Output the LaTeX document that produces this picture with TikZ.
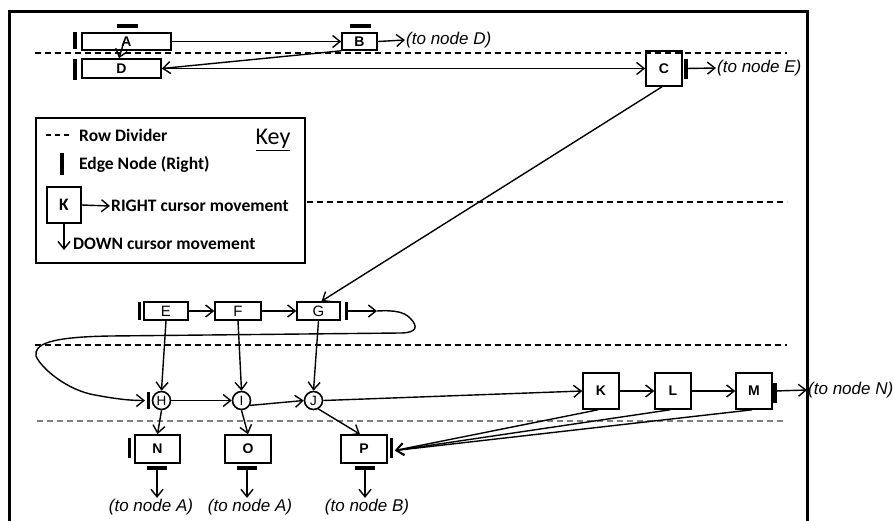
\documentclass[tikz,border=0pt]{standalone}
\usepackage{fontspec}
\setmainfont{Liberation Sans}
\newfontfamily\keyfont{Carlito}
\usetikzlibrary{arrows.meta}
\begin{document}
\begin{tikzpicture}[x=1pt,y=-1pt,
  sz/.style 2 args={minimum width=#1pt, minimum height=#2pt},
  arr/.style={-{Straight Barb[length=7.5pt,width=12pt,line width=1.4pt]}, line width=1.4pt},
  box/.style={draw, line width=1.6pt, inner sep=0pt, font=\fontsize{14}{14}\selectfont\bfseries},
  rbox/.style={draw, line width=1.6pt, inner sep=0pt, font=\fontsize{15}{15}\selectfont},
  circ/.style={draw, circle, line width=1.6pt, inner sep=0pt, minimum size=18pt, font=\fontsize{13.5}{13.5}\selectfont},
  ebar/.style={line width=3.4pt},
  divider/.style={line width=1.4pt, dash pattern=on 6pt off 4pt},
  lbl/.style={inner sep=1pt, font=\fontsize{17}{18}\selectfont\itshape},
  keytxt/.style={inner sep=1pt, anchor=west, font=\keyfont\fontsize{17.5}{19}\selectfont\bfseries}
]
\useasboundingbox (0,0) rectangle (894,520);
\fill[white] (0,0) rectangle (894,520);

% frame
\draw[line width=3pt] (9,524) -- (9,11) -- (807,11) -- (807,524);

% dividers
\draw[divider] (35,53) -- (787,53);
\draw[divider] (307,202) -- (787,202);
\draw[divider] (35,345) -- (787,345);
\draw[divider, gray] (37,421) -- (785,421);

% ---- top rows
\node[box, sz={89}{17}] (A) at (126.5,41.5) {A};
\node[box, sz={35}{17}] (B) at (359.5,41.5) {B};
\node[box, sz={79}{19}] (D) at (121.5,68.5) {D};
\node[box, sz={36}{35}] (C) at (664,68.5) {C};
\node[lbl, anchor=west] (tD) at (405,40) {(to node D)};
\node[lbl, anchor=west] (tE) at (716,68) {(to node E)};

\draw[ebar] (75,32) -- (75,49);
\draw[ebar] (117,26) -- (138,26);
\draw[ebar] (350,26) -- (371,26);
\draw[ebar] (75,59) -- (75,80);
\draw[ebar] (686,59) -- (686,79);
\coordinate (Cb) at (686,68.5);

\draw[arr] (A.east) -- (B.west);
\draw[arr] ([xshift=-2.5pt]A.center) -- ([xshift=-2.5pt]D.north);
\draw[arr] (B.south west) -- (D.east);
\draw[arr] (D.east) -- (C.west);
\draw[arr] (B.east) -- (tD.west);
\draw[arr] (Cb) -- (tE.west);

% ---- key
\node[draw, line width=1.8pt, sz={269}{145}] (key) at (170.5,190.5) {};
\draw[line width=1.2pt, dash pattern=on 5pt off 4pt] (46,135) -- (72,135);
\node[keytxt] (k1) at (78,135) {Row Divider};
\draw[ebar] (62,153) -- (62,175);
\node[keytxt] (k2) at (78,164) {Edge Node (Right)};
\node[box, font=\keyfont\fontsize{17.5}{17.5}\selectfont\bfseries, sz={34}{36}] (kK) at (64,205) {K};
\node[keytxt] (k3) at (110,206) {RIGHT cursor movement};
\node[keytxt] (k4) at (72,244) {DOWN cursor movement};
\coordinate (kd) at (64,250);
\draw[arr] (kK.east) -- (k3.west);
\draw[arr] (kK.south) -- (kd);
\node[inner sep=0pt, font=\keyfont\fontsize{24}{24}\selectfont] (keyttl) at (273,140) {\underline{Key}};

% ---- E F G row
\node[rbox, sz={44}{18}] (E) at (166,311) {E};
\node[rbox, sz={46}{18}] (F) at (238,311) {F};
\node[rbox, sz={43}{18}] (G) at (318.5,311) {G};
\draw[ebar] (139.5,302) -- (139.5,320);
\draw[ebar] (346.5,302) -- (346.5,320);
\coordinate (Gb) at (346.5,311);
\coordinate (gout) at (377,311);
\draw[arr] (E.east) -- (F.west);
\draw[arr] (F.east) -- (G.west);
\draw[arr] (Gb) -- (gout);
\draw[arr] ([xshift=-2pt]C.south) -- ([xshift=3pt]G.north);

% ---- H I J row
\node[circ] (H) at (161.5,400.5) {H};
\node[circ] (I) at (241.5,400.5) {I};
\node[circ] (J) at (313.5,400.5) {J};
\draw[ebar] (148.5,392) -- (148.5,409);
\coordinate (hin) at (145,400.5);
\draw[arr] (gout) .. controls (395,310) and (404,312) .. (410,318)
  .. controls (418,326) and (418,333) .. (400,333) -- (110,336)
  .. controls (50,337) and (34,344) .. (36,356)
  .. controls (40,366) and (62,387) .. (90,394)
  .. controls (115,399) and (130,400.5) .. (hin);

\draw[arr] (E.south) -- (H.north);
\draw[arr] (F.south) -- (I.north);
\draw[arr] (G.south) -- (J.north);
\draw[arr] (H.east) -- (I.west);
\draw[arr] (I.-30) -- (J.west);

% ---- K L M
\node[box, sz={36}{36}] (K) at (601,391) {K};
\node[box, sz={36}{36}] (L) at (673,391) {L};
\node[box, sz={36}{36}] (M) at (754,391) {M};
\draw[ebar] (775,383) -- (775,403);
\coordinate (Mb) at (775,391);
\node[lbl, anchor=west] (tN) at (807,390) {(to node N)};
\draw[arr] (J.east) -- (K.west);
\draw[arr] (K.east) -- (L.west);
\draw[arr] (L.east) -- (M.west);
\draw[arr] (Mb) -- (tN.west);

% ---- N O P
\node[box, sz={45}{28}] (N) at (157.5,449) {N};
\node[box, sz={46}{28}] (O) at (248,449) {O};
\node[box, sz={46}{28}] (P) at (364,449) {P};
\draw[ebar] (129.5,438) -- (129.5,458);
\draw[ebar] (391.5,438) -- (391.5,458);
\draw[ebar] (147,468) -- (167,468);
\draw[ebar] (237,468) -- (257,468);
\draw[ebar] (355,468) -- (375,468);
\coordinate (Pin) at (395,450.5);
\coordinate (nb) at (157,468);
\coordinate (ob) at (247,468);
\coordinate (pb) at (365,468);

\draw[arr] (H.south) -- (N.north);
\draw[arr] (I.south) -- (O.north);
\draw[arr] (J.-60) -- ([xshift=-4pt]P.north);
\draw[arr] ([xshift=-3pt]K.south) -- (Pin);
\draw[arr] ([xshift=-3pt]L.south) -- (Pin);
\draw[arr] ([xshift=-2pt]M.south) -- (Pin);

\node[lbl] (tA1) at (151,507) {(to node A)};
\node[lbl] (tA2) at (250,507) {(to node A)};
\node[lbl] (tB) at (367,507) {(to node B)};
\draw[arr] (nb) -- (nb |- tA1.north);
\draw[arr] (ob) -- (ob |- tA2.north);
\draw[arr] (pb) -- (pb |- tB.north);
\end{tikzpicture}
\end{document}
